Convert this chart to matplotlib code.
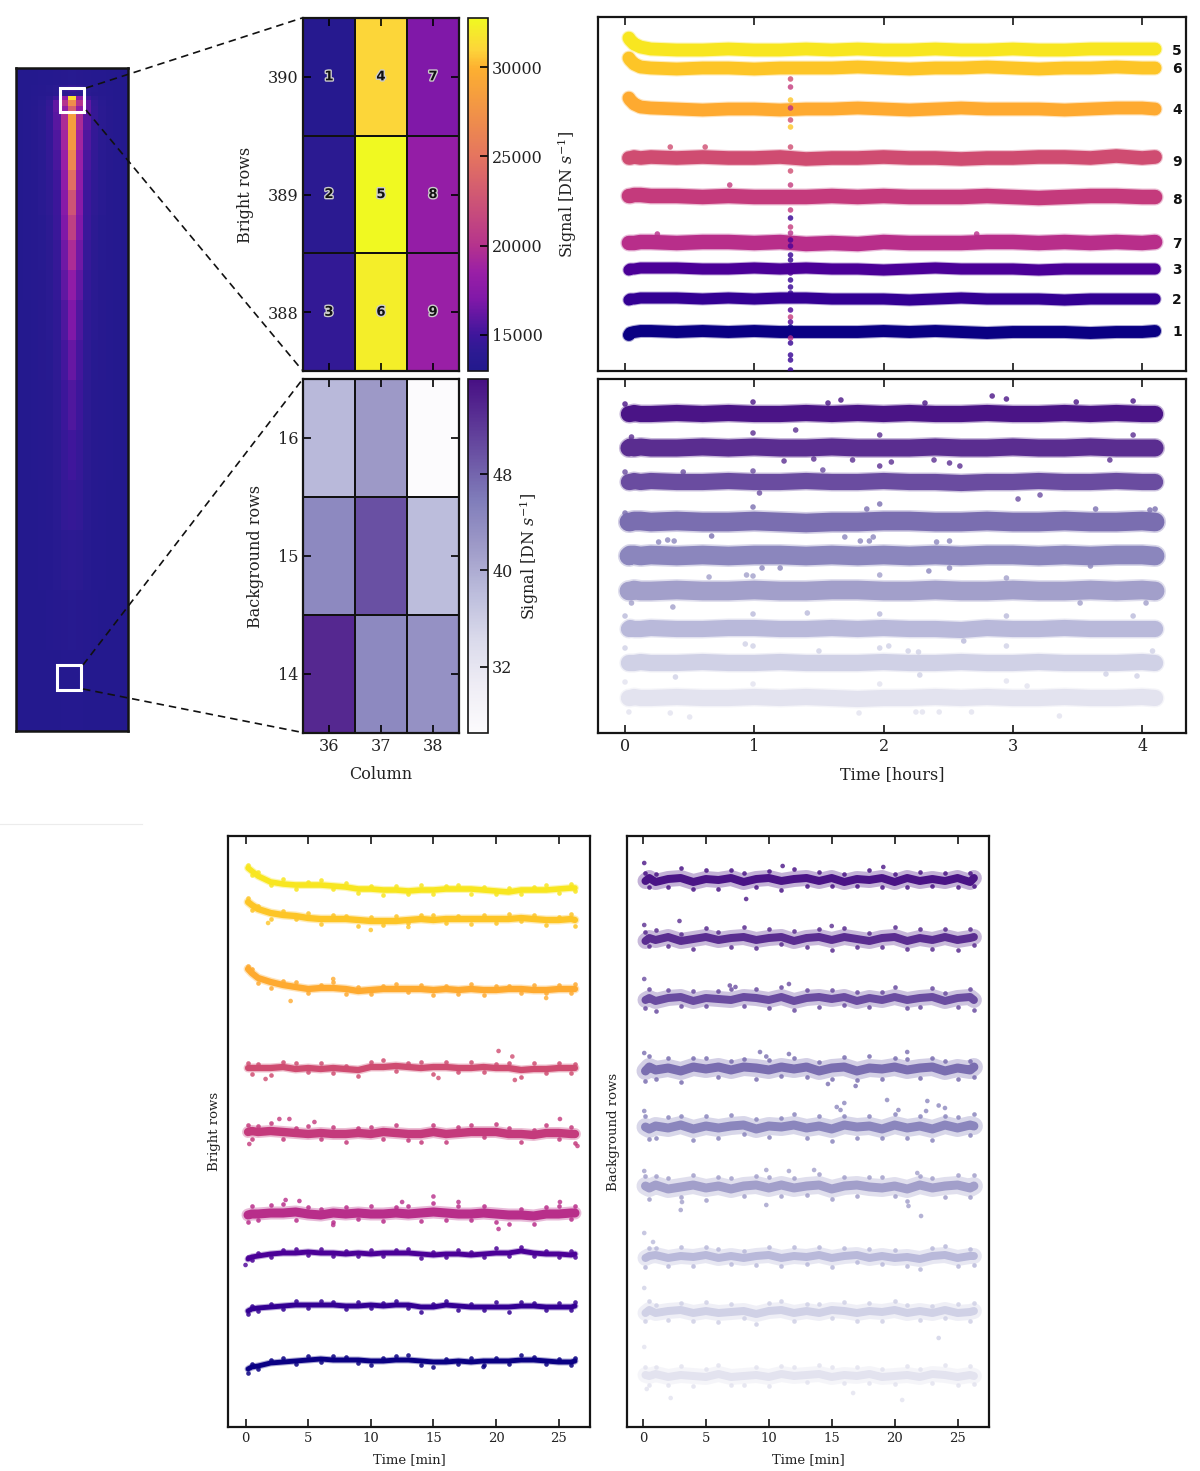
import numpy as np
import matplotlib
matplotlib.use("Agg")
import matplotlib.pyplot as plt
import matplotlib.patheffects as pe
from matplotlib.colors import LinearSegmentedColormap
from matplotlib.lines import Line2D
from matplotlib.patches import Rectangle

plt.rcParams['font.family'] = ['DejaVu Serif']
plt.rcParams['mathtext.fontset'] = 'dejavuserif'

W, H = 1200, 1471
PX = 0.72  # points in one pixel at dpi 100

# heatmaps
bright_rows = [388, 389, 390]
bg_rows = [14, 15, 16]
columns = [36, 37, 38]
bright_signal = [[14300, 32200, 18500],
                 [13900, 32700, 18200],
                 [13400, 31000, 17000]]
bg_signal = [[53.5, 44.3, 43.2],
             [44.3, 49.8, 38.2],
             [38.5, 42.2, 26.5]]
cell_numbers = [[3, 6, 9], [2, 5, 8], [1, 4, 7]]

# full detector image, half profile from the bright column outwards
image_row_edges = [410.8, 399.7, 395.2, 392.6, 390, 386.1, 382.2, 370.5, 357.6, 344.6, 331.6, 315.4,
                   299.1, 279.7, 260.2, 234.3, 208.3, 175.9, 143.4, 110.9, 72, 33.1, -19.5]
image_profile = [
    [13600, 13500, 13400, 13300, 13300, 13200, 13200, 13200],
    [14500, 14200, 13800, 13600, 13400, 13300, 13200, 13200],
    [14000, 13800, 13700, 13500, 13400, 13300, 13200, 13200],
    [31500, 18000, 15000, 14000, 13600, 13400, 13200, 13200],
    [27000, 20000, 16000, 14300, 13700, 13400, 13300, 13200],
    [23500, 18000, 16000, 14500, 13800, 13500, 13300, 13200],
    [28500, 19500, 15800, 14500, 13800, 13500, 13300, 13200],
    [28000, 19000, 15500, 14400, 13800, 13500, 13300, 13200],
    [26500, 18500, 15300, 14300, 13700, 13500, 13300, 13200],
    [24500, 18000, 15000, 14200, 13700, 13400, 13300, 13200],
    [22500, 17500, 14900, 14100, 13700, 13400, 13300, 13200],
    [21000, 17000, 14800, 14000, 13600, 13400, 13300, 13200],
    [19500, 16500, 14600, 13900, 13600, 13400, 13300, 13200],
    [18000, 16000, 14400, 13800, 13500, 13400, 13300, 13200],
    [17000, 15500, 14200, 13700, 13500, 13300, 13200, 13200],
    [16200, 15200, 14100, 13600, 13500, 13300, 13200, 13200],
    [15500, 14900, 14000, 13500, 13400, 13300, 13200, 13200],
    [15000, 14600, 13900, 13500, 13400, 13300, 13200, 13200],
    [14500, 14300, 13700, 13400, 13300, 13200, 13200, 13200],
    [14000, 13900, 13600, 13300, 13300, 13200, 13200, 13200],
    [13600, 13500, 13400, 13300, 13200, 13200, 13200, 13200],
    [13300, 13300, 13200, 13200, 13200, 13200, 13200, 13200],
]

# light curves, top to bottom; offsets are arbitrary (no y scale in the original)
number_labels = ["5", "6", "4", "9", "8", "7", "3", "2", "1"]
number_label_y = [320, 302, 261, 209, 171, 127, 101, 71, 39]
bright_colors = ["#f8e620", "#fdc527", "#feaa30", "#cf4c71", "#c43a7c", "#b82e8a", "#4b0097", "#330093", "#0a0083"]
bg_colors = ["#4a1486", "#5a2d90", "#6a4ca0", "#7a6eb0", "#8b86bd", "#a29fca", "#b9b9da", "#d0d1e6", "#e3e3ef"]

t_hours = [.03, .04, .07, .12, .2, .4, .6, .8, 1, 1.2, 1.4, 1.6, 1.8, 2, 2.2, 2.4, 2.6, 2.8, 3, 3.2, 3.4, 3.6, 3.8, 4, 4.1]
bright_hours_level = [321, 303, 262, 213, 174, 128, 102, 72, 39]
bright_hours = [
    [12, 10, 6, 3, 1, 0, 0, 1, 0, 0, 1, 0, 1, 0, 0, 1, 0, 0, 1, 0, 0, 1, 1, 1, 1],
    [10, 8, 4, 1, 0, -1, 0, 0, -1, 0, 0, 0, 1, 0, -1, 0, 0, 1, 0, -1, 0, 0, 1, 0, 0],
    [11, 9, 5, 2, 1, 0, -1, 0, 0, -1, 0, 0, 1, 0, -1, 0, 1, 0, 0, 0, -1, 0, 1, 1, 0],
    [0, 0, 1, 0, 1, 0, 1, 0, 0, 1, -1, 0, 0, 1, 0, 0, -1, 0, 0, 1, 1, 0, 2, 0, 1],
    [1, 1, 2, 2, 1, 1, 0, 1, 0, 0, 0, 1, 0, 1, 0, 0, 0, 1, 0, -1, 0, 1, 1, 0, 0],
    [0, 0, 0, 1, 1, 0, 1, 1, 0, 1, -1, 0, -1, 1, 0, 0, 0, 1, 1, 0, 1, 0, 1, 0, 1],
    [-1, 0, 0, 1, 1, 1, 0, 0, 1, 0, 1, 0, 0, -1, 0, 1, 0, 0, 0, -1, 0, 0, 0, 0, 0],
    [-1, 0, 0, 1, 1, 1, 0, 1, 0, 1, 1, 0, 0, 0, -1, 0, 1, 0, 0, 0, -1, 0, 0, 0, 0],
    [-3, -1, 0, 1, 1, 0, 1, 0, 1, 0, 0, 0, 0, 1, 0, 1, 0, -1, 0, 0, 0, -1, 0, 0, 1],
]
bright_hours_out_t = [.35, .62, .81, 2.72, .25] + [1.28] * 30
bright_hours_out_y = [224, 224, 186, 137, 137, 292, 284, 271, 263, 251, 244, 224, 200, 186, 161, 153, 144, 138,
                      131, 125, 116, 111, 98, 91, 84, 78, 61, 54, 49, 44, 33, 28, 16, 11, 1]
bright_hours_out_s = [3, 3, 4, 5, 5, 3, 4, 1, 5, 3, 1, 3, 3, 4, 4, 7, 4, 5, 6, 6, 7, 7, 6, 7, 7, 7, 6, 4, 6, 8, 5, 7, 7, 7, 7]

bg_hours_level = [319, 285, 251, 211, 177, 142, 104, 70, 35]
bg_hours = [
    [0, 0, 1, 0, 0, 1, 0, 1, 0, 0, 1, 0, 1, 0, 1, 0, 0, 1, 0, 0, 1, 0, 1, 0, 0],
    [0, 1, 0, 1, 0, 0, 1, 0, 1, 0, 0, 1, 0, 0, 0, 1, 0, 0, 1, 0, 0, 1, 0, 0, 0],
    [0, 0, 1, 0, 1, 0, 0, 1, 0, 0, 1, 0, 0, 1, 0, 0, -1, 0, 0, 1, 0, 0, 1, 0, 0],
    [0, 0, 1, 1, 0, 1, 0, 0, 1, 0, -1, 0, 0, 1, 1, 0, 0, 1, 0, 0, 1, 0, 0, 1, 0],
    [0, 1, 1, 0, 1, 0, 1, 0, 1, 1, 0, 1, 0, 1, 0, 1, 0, 1, 1, 0, 1, 0, 1, 1, 0],
    [0, 0, 1, 0, 0, 1, 0, 0, 1, 0, 0, 1, 1, 0, 0, 1, 0, 0, 1, 0, 0, 1, 0, 1, 0],
    [0, 1, 0, 0, 1, 0, 0, 1, 1, 0, 0, 1, 0, 1, 0, 0, -1, 1, 0, 0, 1, 0, 0, 0, 0],
    [0, 0, 0, 1, 0, 0, 1, 0, 0, 1, 0, 0, 0, 1, 0, 0, 1, 0, 0, 1, 0, 0, 0, 1, 0],
    [0, 0, 1, 0, 0, 1, 0, 0, 1, 0, 1, 0, -1, 0, 0, 1, 0, 1, 0, 0, 1, 0, 0, 1, 0],
]
bg_hours_out_t = [0, .99, 1.67, 2.84, 2.95, 3.49, 3.93, 1.57, 2.32,
                  .05, .99, 1.32, 1.97, 3.93, 1.23, 1.46, 1.76, 1.97, 2.06, 2.39, 2.51, 2.59, 3.75,
                  0, 1.53, 1.04, 3.04, 3.21, .45, .99,
                  .99, 1.97, 1.87, 3.64, 4.06, 4.1, 0, .67,
                  .26, .33, .38, 1.7, 1.82, 1.92, 1.89, 2.51, 2.41, 1.06, 1.2, 2.35, 2.51, 3.6,
                  .65, .94, .99, 1.97, 2.95, .37, 4.03, 3.52, .05,
                  1.41, .99, 1.97, 2.95, 3.93, 0, 2.62,
                  0, .93, .99, 1.5, 1.97, 2.04, 2.19, 2.27, 2.95, .39, 2.28, 3.72, 3.96, 4.08,
                  0, .99, 1.97, 2.95, .03, .35, .5, 1.81, 2.25, 2.3, 2.43, 2.68, 3.36, 3.11]
bg_hours_out_y = [329, 331, 333, 337, 334, 331, 332, 330, 330,
                  296, 300, 303, 298, 298, 272, 274, 273, 267, 271, 273, 270, 267, 273,
                  261, 263, 240, 234, 238, 261, 262,
                  226, 229, 224, 224, 223, 224, 220, 197,
                  191, 193, 192, 196, 192, 196, 192, 192, 191, 165, 165, 162, 165, 167,
                  156, 158, 157, 158, 155, 126, 130, 130, 130,
                  120, 119, 119, 117, 117, 117, 92,
                  85, 89, 87, 82, 85, 87, 82, 81, 87, 56, 58, 59, 57, 82,
                  51, 49, 49, 52, 21, 20, 16, 20, 21, 21, 21, 21, 17, 47]
bg_hours_out_s = [0] * 9 + [1] * 14 + [2] * 7 + [3] * 8 + [4] * 14 + [5] * 9 + [6] * 7 + [7] * 14 + [8] * 14

t_min = [.2, .5, 1, 2, 3, 4, 5, 6, 7, 8, 9, 10, 11, 12, 13, 14, 15, 16, 17, 18, 19, 20, 21, 22, 23, 24, 25, 26, 26.3]
bright_min_level = [537, 507, 438, 359, 294, 213, 173, 121, 66]
bright_min = [
    [22, 19, 14, 8, 6, 5, 5, 5, 4, 3, 1, 1, 0, 0, -1, 0, 0, 1, 1, 1, 0, -1, -2, 0, 0, 0, 1, 2, 2],
    [18, 15, 11, 7, 5, 4, 2, 1, 1, 1, 0, -1, -1, -1, 0, 1, 0, 1, 1, 1, 1, 1, 1, 2, 1, 0, 0, 1, 0],
    [20, 16, 11, 7, 4, 2, 0, 1, 1, 0, -2, -1, 0, 0, 0, 0, -1, 0, -1, 0, -1, -1, 0, 0, -1, -1, 0, 0, 0],
    [0, 0, 0, 0, 1, -1, 0, -1, 0, -1, -2, 1, 1, 2, 1, 0, 1, 1, 0, 0, 1, 0, 0, -2, -1, -1, 0, 0, 0],
    [1, 2, 1, 2, 1, 0, -1, 0, -1, -1, 0, -1, 1, 0, -1, -1, 1, -1, 0, 1, 1, 1, -1, -1, -2, 0, 0, -1, -1],
    [-1, 0, 0, 1, 1, 2, 0, -1, 1, 0, 1, 0, 0, 1, 0, 1, 2, 1, 0, 0, 1, 0, -1, -1, -2, 0, 0, 1, 1],
    [-5, -3, -2, 0, 1, 1, 2, 1, 1, 0, 1, 0, 1, 1, 1, 0, -1, 0, 0, -1, 0, 1, 1, 3, 1, 0, 0, -1, 0],
    [-5, -3, -2, -1, 0, 1, 1, 1, 1, 0, 0, 1, 0, 1, 1, -1, -1, 1, 0, -1, -1, -1, -1, 0, 0, -1, -1, -1, 0],
    [-8, -6, -5, -2, -1, 0, 1, 2, 1, 1, 1, 0, 0, 1, 1, 0, -1, -1, 0, -1, 0, 0, 0, 1, 1, 0, -1, -1, 0],
]
# scatter of single exposures around each curve
bright_min_spread = [
    [3, -4, 4, -3, 5, -4, 3, 5, -3, 4, -4, 3, -5, 4, -3, 5, -4, 3, 4, -5, 3, -3, 4, -4, 3, 5, -4, 4, -3],
    [4, -5, 3, -6, 4, -3, 5, -5, 4, 3, -6, 4, -4, 5, -3, 4, 5, -4, 3, -5, 4, -4, 5, -3, 4, -5, 3, 5, -6],
    [3, 4, -5, -6, 4, 5, -4, 3, 6, -5, 4, -4, 3, 5, -3, 4, -5, 3, -4, 5, -5, 4, 3, -4, 5, -3, 4, -4, 5],
    [5, -6, 4, -7, 5, 6, -4, 6, -5, 3, -6, 5, 7, -5, 4, 6, -7, 5, -4, 6, -5, 4, 5, -7, 6, -4, 5, -5, 4],
    [7, -8, 6, 8, -7, 5, 8, -6, 7, -8, 5, 7, -7, 8, -6, -8, 7, -8, 6, 7, -5, 8, 6, -8, 5, 8, -6, 7, -9],
    [-7, 8, -6, 8, 9, -8, 7, 6, -9, 7, -6, 8, -7, 6, 8, -8, 9, -7, 8, -6, 7, -8, -9, 6, -8, 7, 8, -6, 7],
    [2, -3, 3, -3, 3, 4, -3, 4, -3, 3, -3, 4, -3, 3, 4, -4, 3, -3, 4, 3, -3, 5, -3, 4, -3, 3, -3, 4, -3],
    [-3, 3, -3, 3, -3, 4, -3, 4, 3, -3, 4, -3, 3, 4, -3, -5, 3, 4, -4, 3, -3, 5, -5, 4, 3, -3, 4, -3, 4],
    [-4, 3, -3, 3, 4, -3, 4, -3, 4, 3, -3, -4, 3, 4, 5, -4, -5, 3, -3, 4, -4, 3, -3, 5, 3, -3, 3, -3, 3],
]
bright_min_out_t = [20.2, 21.3, 3.6, 15, 20.2, 7, 2.7, 3.5, 5.5, 25.1, 19, 3.2, 4.3, 12.5, 17, 25.1, 0, 10, 13, 1.8,
                    21.5, 1.6, 15.4, .3, 26.5, 24, 7]
bright_min_out_y = [376, 370.5, 426, 230.5, 198, 202, 308, 308, 305, 308, 60, 227, 226, 225, 225, 225, 162, 497, 500,
                    504, 347, 348, 349, 283, 281, 429, 448]
bright_min_out_s = [3, 3, 2, 5, 5, 5, 4, 4, 4, 4, 8, 5, 5, 5, 5, 5, 6, 1, 1, 1, 3, 3, 3, 4, 4, 2, 2]

bg_min_level = [547, 488, 428, 358, 300, 240, 170, 115, 51]
bg_min = [
    [-1, 2, -2, 1, 2, -2, 1, 0, 2, -2, 1, 2, -1, 1, 2, -1, 2, -2, 1, 0, 2, -2, 2, -1, 1, -1, 2, -2, 2],
    [-2, 1, -1, 2, -2, 0, 2, -1, 1, 2, -1, 1, 2, -2, 1, 2, -1, 2, 0, -2, 1, 2, -2, 1, -1, 2, -1, 1, 2],
    [-1, 1, -2, 1, 2, -2, 1, 0, -1, 2, 1, -1, 2, -2, 1, 2, 0, 2, -2, 1, -1, 2, -1, 1, 2, -2, 1, 2, -1],
    [-2, 2, -1, 1, -2, 2, 0, 2, -1, 2, 1, -1, 2, 0, 2, -2, 1, 2, -2, 1, 0, 2, -1, 1, 2, -2, 1, -1, 2],
    [0, -2, 1, -1, 2, -2, 1, -1, 1, 2, -2, 1, 0, 2, -1, 1, -2, 2, 0, 1, -2, 2, -1, 1, -2, 2, -1, 2, 1],
    [1, -1, 2, -2, 0, 2, -1, 1, -2, 1, 2, -1, 2, -1, 1, 2, -2, 1, 2, 0, -1, 1, -2, 2, -1, 1, 2, -1, 1],
    [-1, 1, 2, -1, 1, 0, 2, -1, 1, -1, 1, 2, -1, 1, 0, 2, -1, 1, 2, -1, 1, -1, 0, -2, 1, 2, -1, 1, 1],
    [-1, 2, -1, 1, 2, -1, 1, -1, 0, 1, -2, 1, 2, -1, 1, -1, 2, 1, -1, 1, 0, 2, -1, 1, -1, 2, -1, 0, 1],
    [1, 0, 2, -1, 1, 0, -1, 2, -1, 0, 1, -1, 2, 0, 1, 2, -1, 1, 0, 2, -1, 0, 1, -1, 2, 1, -1, 1, 0],
]
bg_min_spread = [
    [8, -9, 8, -8, 10, -7, 9, -9, 8, 9, -8, 7, -9, 10, -8, 9, -8, 8, -7, 10, -9, 8, -9, 9, -7, 8, -9, 9, -8],
    [9, -8, 10, -9, 7, -10, 9, 8, -9, 10, -8, 9, -7, 10, -9, 8, -10, 9, -8, 8, -9, 10, -8, 9, -9, 8, -10, 9, -8],
    [-8, 9, -10, 8, -9, 10, -8, 8, 11, -9, 9, -8, 10, -9, 8, -10, 9, -8, 9, -9, 8, 10, -8, -9, 9, 8, -9, 8, -10],
    [-10, 11, -9, 10, -11, 9, 11, -10, 9, 8, -11, 10, -9, 11, -10, 9, -11, 10, -9, 12, -10, 9, 11, -10, 9, 10, -11, 9, -10],
    [11, -10, -12, 11, 9, -11, 10, -10, 11, -9, 10, -11, 9, 11, -10, 10, -12, 9, -11, 10, -9, 11, -10, 10, -11, 9, 11, -10, 12],
    [10, -11, 9, 11, -10, 10, -12, 9, 11, -10, 9, 11, -11, 10, -9, 11, -10, 9, -11, 10, 11, -10, -12, 9, 10, -11, 10, -9, 11],
    [-9, 8, 7, -8, 9, -9, 8, 9, -8, 7, -9, 8, -8, 9, -7, 8, -9, 8, -7, 9, -8, 8, -9, -10, 8, 9, -8, 7, -9],
    [-8, 9, 8, -9, 7, -8, 9, -9, 8, -7, -10, 8, 9, -8, 7, 9, -8, 9, -8, 8, -9, 9, 8, -9, 7, -8, 9, -9, 8],
    [8, -9, 7, -8, 9, -10, 8, 9, -8, -9, 8, -9, 8, 9, -7, 9, 10, -8, 9, -9, 8, -8, 9, 8, -9, 10, -8, 9, -8],
]
bg_min_out_t = [.1, 11.1, 19.1, 8.2, .1, 2.9, 15, .1, 11.6, 6.9, 7.35, .1, 9.3, 11.6, 9.8, 21, 16.9, 14.7,
                .1, 15.4, 16, 15.7, 19.4, 20.3, 22.6, 22.5, 23.5, 24, .1, 9.8, 11.6, 13.6, 21.8, 3.1, 3, 9.8, 21.1, 22.1,
                .1, .8, .1, 23.5, .1, 2.2, 16.7, 20.6, .3]
bg_min_out_y = [564, 561, 560, 528, 502, 506, 501, 448, 443, 441.5, 440, 374, 375, 373, 370.5, 375, 341, 343,
                316, 320, 324, 317, 327, 317, 326, 316, 321.5, 319, 256, 257, 256, 257, 254, 225, 217, 222, 221, 211,
                194, 185, 139, 89, 80, 29, 34, 27, 38]
bg_min_out_s = [0] * 4 + [1] * 3 + [2] * 4 + [3] * 7 + [4] * 10 + [5] * 10 + [6] * 2 + [7] * 2 + [8] * 5

bright_hours_width = [15, 15, 15, 16, 17, 17, 13, 13, 14]
bg_hours_width = [19, 20, 19, 22, 22, 22, 19, 19, 19]
bright_min_width = [8, 9, 9, 9, 12, 13, 7, 7, 7]
bg_min_width = [16, 16, 16, 18, 18, 18, 16, 16, 16]

fig = plt.figure(figsize=(W / 100, H / 100), dpi=100)


def ax_px(left, top, right, bottom):
    # axes from pixel box of the reference
    return fig.add_axes([left / W, 1 - bottom / H, (right - left) / W, (bottom - top) / H])


def frame(ax, lw=1.6):
    for s in ax.spines.values():
        s.set_linewidth(lw)
        s.set_color("#151515")


def curves_panel(ax, t, level, dev, colors, widths, out_t, out_y, out_s, xlim, ylim, msize, spread=None, core=0.85):
    for i in range(len(level)):
        y = level[i] + np.array(dev[i])
        # soft outer band, solid core, then the single points when the curve is sparse
        ax.plot(t, y, color=colors[i], lw=widths[i] * PX, alpha=0.33, solid_capstyle='round', zorder=2)
        ax.plot(t, y, color=colors[i], lw=widths[i] * PX * core, solid_capstyle='round', zorder=3)
        if spread is not None:
            ax.scatter(t, y + np.array(spread[i]), color=colors[i], s=msize, alpha=0.85, linewidths=0, zorder=4)
    ax.scatter(out_t, out_y, c=[colors[s] for s in out_s], s=msize, alpha=0.8, linewidths=0, zorder=4)
    ax.set_xlim(*xlim)
    ax.set_ylim(*ylim)
    ax.set_yticks([])
    ax.tick_params(axis='x', direction='in', top=True, bottom=True, length=6, width=1.2, color="#151515")
    frame(ax)


# colour scale of the bright pixels, sampled from the colourbar
plasma_cut = LinearSegmentedColormap.from_list("plasma_cut", [
    (0, "#22198d"), (.05, "#2c1a92"), (.1, "#3e169b"), (.2, "#7f18a8"), (.28, "#9a1fa6"), (.355, "#b5338d"),
    (.61, "#e5755f"), (.86, "#fdb030"), (.91, "#fdd43a"), (1, "#f0f921")])

# detector image
profile = np.array(image_profile)
image = np.hstack([profile[:, :0:-1], profile])
col_edges = np.arange(29.5, 45, 1)
ax = ax_px(16, 68, 128, 731)
ax.pcolormesh(col_edges, image_row_edges, image, cmap=plasma_cut, vmin=12984, vmax=32744)
ax.set_xticks([])
ax.set_yticks([])
ax.set_xlim(29.5, 44.5)
ax.set_ylim(-19.5, 410.8)
ax.add_patch(Rectangle((35.4, 382.2), 3.2, 15.6, fill=False, ec="white", lw=2.2))
ax.add_patch(Rectangle((35.0, 7.2), 3.2, 16.2, fill=False, ec="white", lw=2.2))
frame(ax, 1.8)

# bright heatmap
ax = ax_px(303, 18, 459, 371)
im = ax.pcolormesh(np.arange(35.5, 39), np.arange(387.5, 391), bright_signal, cmap=plasma_cut, vmin=12984, vmax=32744,
                   edgecolors="#111111", linewidth=1.3)
for r in range(3):
    for c in range(3):
        ax.text(columns[c], bright_rows[r], str(cell_numbers[r][c]), ha='center', va='center', fontsize=9.5,
                family='DejaVu Sans', weight='bold', color="#111111",
                path_effects=[pe.withStroke(linewidth=2, foreground="#cccccc")])
ax.set_xticks(columns)
ax.set_yticks(bright_rows)
ax.tick_params(direction='in', top=True, right=True, bottom=True, left=True, length=6, width=1.2,
               labelbottom=False, labelsize=11.5, labelcolor="#222222")
ax.set_ylabel("Bright rows", fontsize=11.5, color="#222222", labelpad=10)
frame(ax)
cax = ax_px(468, 18, 488, 371)
cb = fig.colorbar(im, cax=cax, ticks=[15000, 20000, 25000, 30000])
cb.ax.tick_params(direction='in', length=6, width=1.2, labelsize=11.5, labelcolor="#222222", pad=3)
cb.set_label(r"Signal [DN $s^{-1}$]", fontsize=11.5, color="#222222", labelpad=9)
frame(cax, 1.2)

# background heatmap
ax = ax_px(303, 379, 459, 733)
im = ax.pcolormesh(np.arange(35.5, 39), np.arange(13.5, 17), bg_signal, cmap="Purples", vmin=26.5, vmax=57.5,
                   edgecolors="#111111", linewidth=1.3)
ax.set_xticks(columns)
ax.set_yticks(bg_rows)
ax.tick_params(direction='in', top=True, right=True, bottom=True, left=True, length=6, width=1.2,
               labelsize=11.5, labelcolor="#222222")
ax.set_xlabel("Column", fontsize=11.5, color="#222222", labelpad=8)
ax.set_ylabel("Background rows", fontsize=11.5, color="#222222", labelpad=10)
frame(ax)
cax = ax_px(468, 379, 488, 733)
cb = fig.colorbar(im, cax=cax, ticks=[32, 40, 48])
cb.ax.set_ylim(26.5, 55.9)
cb.ax.tick_params(direction='in', length=6, width=1.2, labelsize=11.5, labelcolor="#222222", pad=3)
cb.set_label(r"Signal [DN $s^{-1}$]", fontsize=11.5, color="#222222", labelpad=4)
frame(cax, 1.2)

# long light curves
ax = ax_px(598, 17, 1186, 371)
curves_panel(ax, t_hours, bright_hours_level, bright_hours, bright_colors, bright_hours_width, bright_hours_out_t,
             bright_hours_out_y, bright_hours_out_s, (-0.209, 4.339), (0, 354), 16)
ax.set_xticks([0, 1, 2, 3, 4])
ax.tick_params(labelbottom=False)
for i in range(9):
    ax.text(4.27, number_label_y[i], number_labels[i], ha='center', va='center', fontsize=10,
            family='DejaVu Sans', weight='bold', color="#111111")

ax = ax_px(598, 379, 1186, 733)
curves_panel(ax, t_hours, bg_hours_level, bg_hours, bg_colors, bg_hours_width, bg_hours_out_t, bg_hours_out_y,
             bg_hours_out_s, (-0.209, 4.339), (0, 354), 16)
ax.set_xticks([0, 1, 2, 3, 4])
ax.tick_params(labelsize=11.5, labelcolor="#222222")
ax.set_xlabel("Time [hours]", fontsize=11.5, color="#222222", labelpad=8)

# first minutes
ax = ax_px(228, 836, 590, 1427)
curves_panel(ax, t_min, bright_min_level, bright_min, bright_colors, bright_min_width, bright_min_out_t,
             bright_min_out_y, bright_min_out_s, (-1.4, 27.5), (0, 591), 11, spread=bright_min_spread, core=0.7)
ax.set_xticks([0, 5, 10, 15, 20, 25])
ax.tick_params(labelsize=9.5, labelcolor="#222222")
ax.set_xlabel("Time [min]", fontsize=9.5, color="#222222", labelpad=6)
ax.set_ylabel("Bright rows", fontsize=9.5, color="#222222", labelpad=5)

ax = ax_px(627, 836, 989, 1427)
curves_panel(ax, t_min, bg_min_level, bg_min, bg_colors, bg_min_width, bg_min_out_t, bg_min_out_y, bg_min_out_s,
             (-1.27, 27.5), (0, 591), 11, spread=bg_min_spread, core=0.5)
ax.set_xticks([0, 5, 10, 15, 20, 25])
ax.tick_params(labelsize=9.5, labelcolor="#222222")
ax.set_xlabel("Time [min]", fontsize=9.5, color="#222222", labelpad=6)
ax.set_ylabel("Background rows", fontsize=9.5, color="#222222", labelpad=5)

# zoom guides and the faint rule
guides = [((86, 88), (302, 18)), ((86, 110), (302, 370)), ((83, 665), (302, 380)), ((83, 689), (300, 732))]
for a, b in guides:
    fig.add_artist(Line2D([a[0] / W, b[0] / W], [1 - a[1] / H, 1 - b[1] / H], color="#111111", lw=1.2,
                          ls=(0, (4.5, 3))))
fig.add_artist(Line2D([0, 142 / W], [1 - 824 / H, 1 - 824 / H], color="#ececec", lw=0.8))

fig.savefig("out.png", dpi=100)
